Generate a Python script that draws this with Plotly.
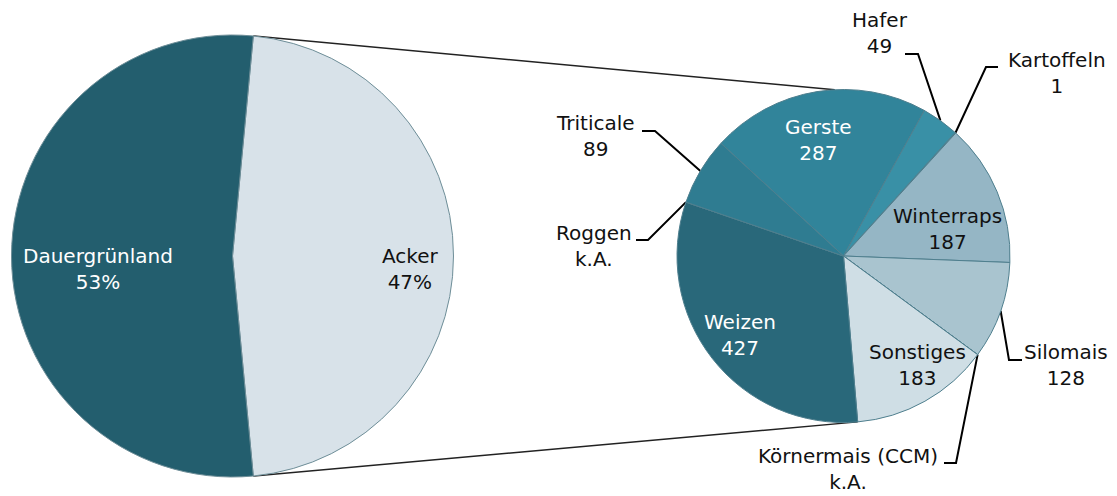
import math
import plotly.graph_objects as go

W, H = 1117, 496
OFF = 8  # default body margin of the html page

# ---------------- data ----------------
overview_labels = ["Acker", "Dauergrünland"]
overview_share = [47, 53]  # percent

crop_labels = ["Gerste", "Hafer", "Kartoffeln", "Winterraps", "Silomais",
               "Körnermais (CCM)", "Sonstiges", "Weizen", "Roggen", "Triticale"]
crop_values = [287, 49, 1, 187, 128, None, 183, 427, None, 89]  # None = k.A.

# ---------------- styles / layout ----------------
overview_colors = ["#d8e2e9", "#235e6e"]
crop_colors = ["#31849a", "#3990a6", "#3990a6", "#95b6c5", "#a9c4cf",
               "#a9c4cf", "#cfdee5", "#29687a", "#29687a", "#2f7c91"]

BIG = dict(cx=232.5, cy=256.0, r=221.0)
SMALL = dict(cx=843.5, cy=256.0, r=166.5)
BIG_ROT = 90 - overview_share[0] * 360 / sum(overview_share) / 2
SMALL_ROT = -47.4

FONT = "DejaVu Sans"
FS = 20

FW, FH = W - OFF, H - OFF

# label positions (screen pixel coords, y downward)
inside_pos = {
    "Dauergrünland": (98, 269, "white"),
    "Acker": (410, 269, "#111111"),
    "Gerste": (818, 140, "white"),
    "Winterraps": (947, 229, "#111111"),
    "Weizen": (740, 335, "white"),
    "Sonstiges": (917, 365, "#111111"),
}
outside_pos = {
    "Hafer": (880, 33, [(905, 54), (918, 54)]),
    "Kartoffeln": (1057, 73, [(998, 67), (986, 67)]),
    "Triticale": (595, 136, [(642, 131), (655, 131)]),
    "Roggen": (594, 246, [(636, 240), (648, 240)]),
    "Silomais": (1066, 365, [(1022, 360), (1009, 360)]),
    "Körnermais (CCM)": (848, 469, [(944, 463), (956, 463)]),
}


def domain(p):
    return dict(x=[(p["cx"] - p["r"] - OFF) / FW, (p["cx"] + p["r"] - OFF) / FW],
                y=[1 - (p["cy"] + p["r"] - OFF) / FH, 1 - (p["cy"] - p["r"] - OFF) / FH])


def edge(p, deg):
    a = math.radians(deg)
    return (p["cx"] + p["r"] * math.sin(a), p["cy"] - p["r"] * math.cos(a))


vals = [v if v is not None else 0 for v in crop_values]
total = sum(vals)
cum = []
acc = 0
for v in vals:
    start = SMALL_ROT + acc / total * 360
    acc += v
    end = SMALL_ROT + acc / total * 360
    cum.append((start, end))

fig = go.Figure()

# overlay pixel axes for lines (mapped to screen pixels)
fig.update_layout(
    xaxis=dict(range=[OFF, W], visible=False, fixedrange=True),
    yaxis=dict(range=[H, OFF], visible=False, fixedrange=True),
)

# connecting lines big pie -> small pie
big_start = edge(BIG, BIG_ROT)
big_end = edge(BIG, BIG_ROT + overview_share[0] * 360 / sum(overview_share))
weizen_idx = crop_labels.index("Weizen")
small_top = edge(SMALL, -3)
small_bot = edge(SMALL, cum[weizen_idx][0])
for a, b in [(big_start, small_top), (big_end, small_bot)]:
    fig.add_trace(go.Scatter(x=[a[0], b[0]], y=[a[1], b[1]], mode="lines",
                             line=dict(color="#222222", width=1.4),
                             hoverinfo="skip", showlegend=False))

fig.add_trace(go.Pie(
    labels=overview_labels, values=overview_share, sort=False,
    direction="clockwise", rotation=BIG_ROT, domain=domain(BIG),
    marker=dict(colors=overview_colors, line=dict(color="#6e8e98", width=1)),
    textinfo="none", showlegend=False, hoverinfo="label+percent"))

fig.add_trace(go.Pie(
    labels=crop_labels, values=vals, sort=False,
    direction="clockwise", rotation=SMALL_ROT, domain=domain(SMALL),
    marker=dict(colors=crop_colors, line=dict(color="#4f7f8e", width=1)),
    textinfo="none", showlegend=False, hoverinfo="label+value"))

# leader lines
for i, lab in enumerate(crop_labels):
    if lab not in outside_pos:
        continue
    s, e = cum[i]
    anchor = edge(SMALL, (s + e) / 2)
    pts = outside_pos[lab][2] + [anchor]
    fig.add_trace(go.Scatter(x=[p[0] for p in pts], y=[p[1] for p in pts],
                             mode="lines", line=dict(color="#000000", width=2),
                             hoverinfo="skip", showlegend=False))

annotations = []
for lab, share in zip(overview_labels, overview_share):
    x, y, c = inside_pos[lab]
    annotations.append(dict(x=x, y=y, text=f"{lab}<br>{share}%",
                            font=dict(color=c)))
for lab, v in zip(crop_labels, crop_values):
    txt = f"{lab}<br>{v if v is not None else 'k.A.'}"
    if lab in inside_pos:
        x, y, c = inside_pos[lab]
        annotations.append(dict(x=x, y=y, text=txt, font=dict(color=c)))
    else:
        x, y, _ = outside_pos[lab]
        annotations.append(dict(x=x, y=y, text=txt, font=dict(color="#111111")))

for a in annotations:
    a.update(xref="x", yref="y", showarrow=False, xanchor="center",
             yanchor="middle", align="center")
    a["font"].update(family=FONT, size=FS)

fig.update_layout(
    width=FW, height=FH, autosize=False,
    margin=dict(l=0, r=0, t=0, b=0),
    paper_bgcolor="white", plot_bgcolor="white",
    annotations=annotations,
)

fig.write_html("out.html")
